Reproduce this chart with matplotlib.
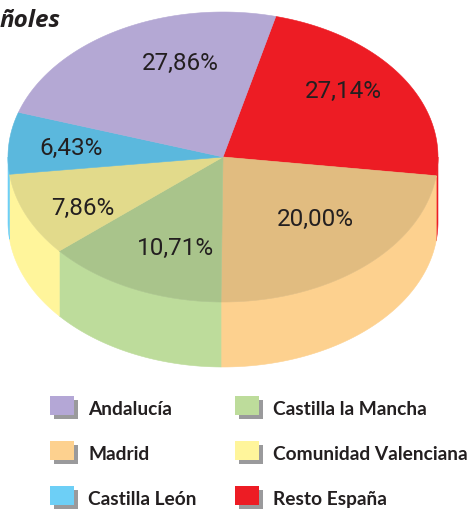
import numpy as np
import matplotlib
matplotlib.use("Agg")
import matplotlib.pyplot as plt
from matplotlib.patches import Polygon, Rectangle

# ---- data (clockwise from the Andalucía / Resto boundary) ----
categories = ["Resto España", "Madrid", "Castilla la Mancha",
              "Comunidad Valenciana", "Castilla León", "Andalucía"]
values = [27.14, 20.00, 10.71, 7.86, 6.43, 27.86]
value_labels = ["27,14%", "20,00%", "10,71%", "7,86%", "6,43%", "27,86%"]
legend_left = ["Andalucía", "Madrid", "Castilla León"]
legend_right = ["Castilla la Mancha", "Comunidad Valenciana", "Resto España"]
title_text = "ñoles"

# ---- styles ----
side_colors = {"Andalucía": "#B4A7D6", "Resto España": "#ED1C24",
               "Madrid": "#FDD18F", "Castilla la Mancha": "#BDDC9B",
               "Comunidad Valenciana": "#FFF59B", "Castilla León": "#6DCFF6"}
top_colors = {"Andalucía": "#B4A8D4", "Resto España": "#ED1C24",
              "Madrid": "#E1BC80", "Castilla la Mancha": "#A9C48B",
              "Comunidad Valenciana": "#E2DA8B", "Castilla León": "#5BB8DD"}
# text anchor positions for the value labels (pixels)
label_xy = [(343, 91), (315, 219), (175.5, 248), (83, 208.5), (71, 148), (180, 63)]

W, H = 469, 511
fig = plt.figure(figsize=(W / 100, H / 100), dpi=100)
ax = fig.add_axes([0, 0, 1, 1])
ax.set_xlim(0, W)
ax.set_ylim(H, 0)
ax.axis("off")

cx, cy, ra, rb, depth = 223, 157, 215, 145, 65
start = 76.0
th_d = np.deg2rad(75.0)
phi = 0.25


def to_drawn(t_deg):
    a = np.deg2rad(t_deg) - th_d
    c, s = np.cos(a), np.sin(a)
    den = c * np.sinh(phi) + np.cosh(phi)
    c2 = (c * np.cosh(phi) + np.sinh(phi)) / den
    s2 = s / den
    return np.rad2deg(np.arctan2(s2, c2) + th_d)


def ell(d):
    r = np.deg2rad(d)
    return cx + ra * np.cos(r), cy - rb * np.sin(r)


fr = np.array(values) / np.sum(values) * 360.0
bounds = start - np.concatenate([[0], np.cumsum(fr)])

slices = []
for i, cat in enumerate(categories):
    hi = to_drawn(bounds[i])
    lo = to_drawn(bounds[i + 1])
    span = (hi - lo) % 360.0
    lo = hi - span
    slices.append((cat, hi, lo))

# side faces (front half only)
for cat, hi, lo in slices:
    for k in (-1, 0, 1):
        a0 = max(lo, -180 + 360 * k)
        a1 = min(hi, 360 * k)
        if a1 > a0:
            d = np.linspace(a1, a0, 80)
            x, y = ell(d)
            xs = np.concatenate([x, x[::-1]])
            ys = np.concatenate([y, (y + depth)[::-1]])
            ax.add_patch(Polygon(np.column_stack([xs, ys]), closed=True,
                                 facecolor=side_colors[cat],
                                 edgecolor=side_colors[cat], lw=0.4, zorder=1))

# top faces
for cat, hi, lo in slices:
    d = np.linspace(hi, lo, 150)
    x, y = ell(d)
    xs = np.concatenate([[cx], x])
    ys = np.concatenate([[cy], y])
    ax.add_patch(Polygon(np.column_stack([xs, ys]), closed=True,
                         facecolor=top_colors[cat], edgecolor=top_colors[cat],
                         lw=0.4, zorder=2))

# value labels
for lab, (lx, ly) in zip(value_labels, label_xy):
    ax.text(lx, ly, lab, ha="center", va="center", fontsize=17.5,
            color="#231F20", family="Roboto", zorder=3)

# title fragment
ax.text(0, 21, title_text, ha="left", va="center", fontsize=17.5,
        family="Open Sans", fontweight="bold", fontstyle="italic",
        color="#231F20")

# legend
rows_y = [405.5, 450.5, 495.5]
for col_x, items in ((50, legend_left), (235, legend_right)):
    for yy, cat in zip(rows_y, items):
        ax.add_patch(Rectangle((col_x + 4, yy - 5.5), 24, 19,
                               facecolor="#9A9A9C", edgecolor="none"))
        ax.add_patch(Rectangle((col_x, yy - 9.5), 24, 19,
                               facecolor=side_colors[cat], edgecolor="none"))
        ax.text(col_x + 38, yy + 4, cat, ha="left", va="center",
                fontsize=13.8, family="Lato", fontweight="bold",
                color="#231F20")

fig.savefig("out.png", dpi=100)
